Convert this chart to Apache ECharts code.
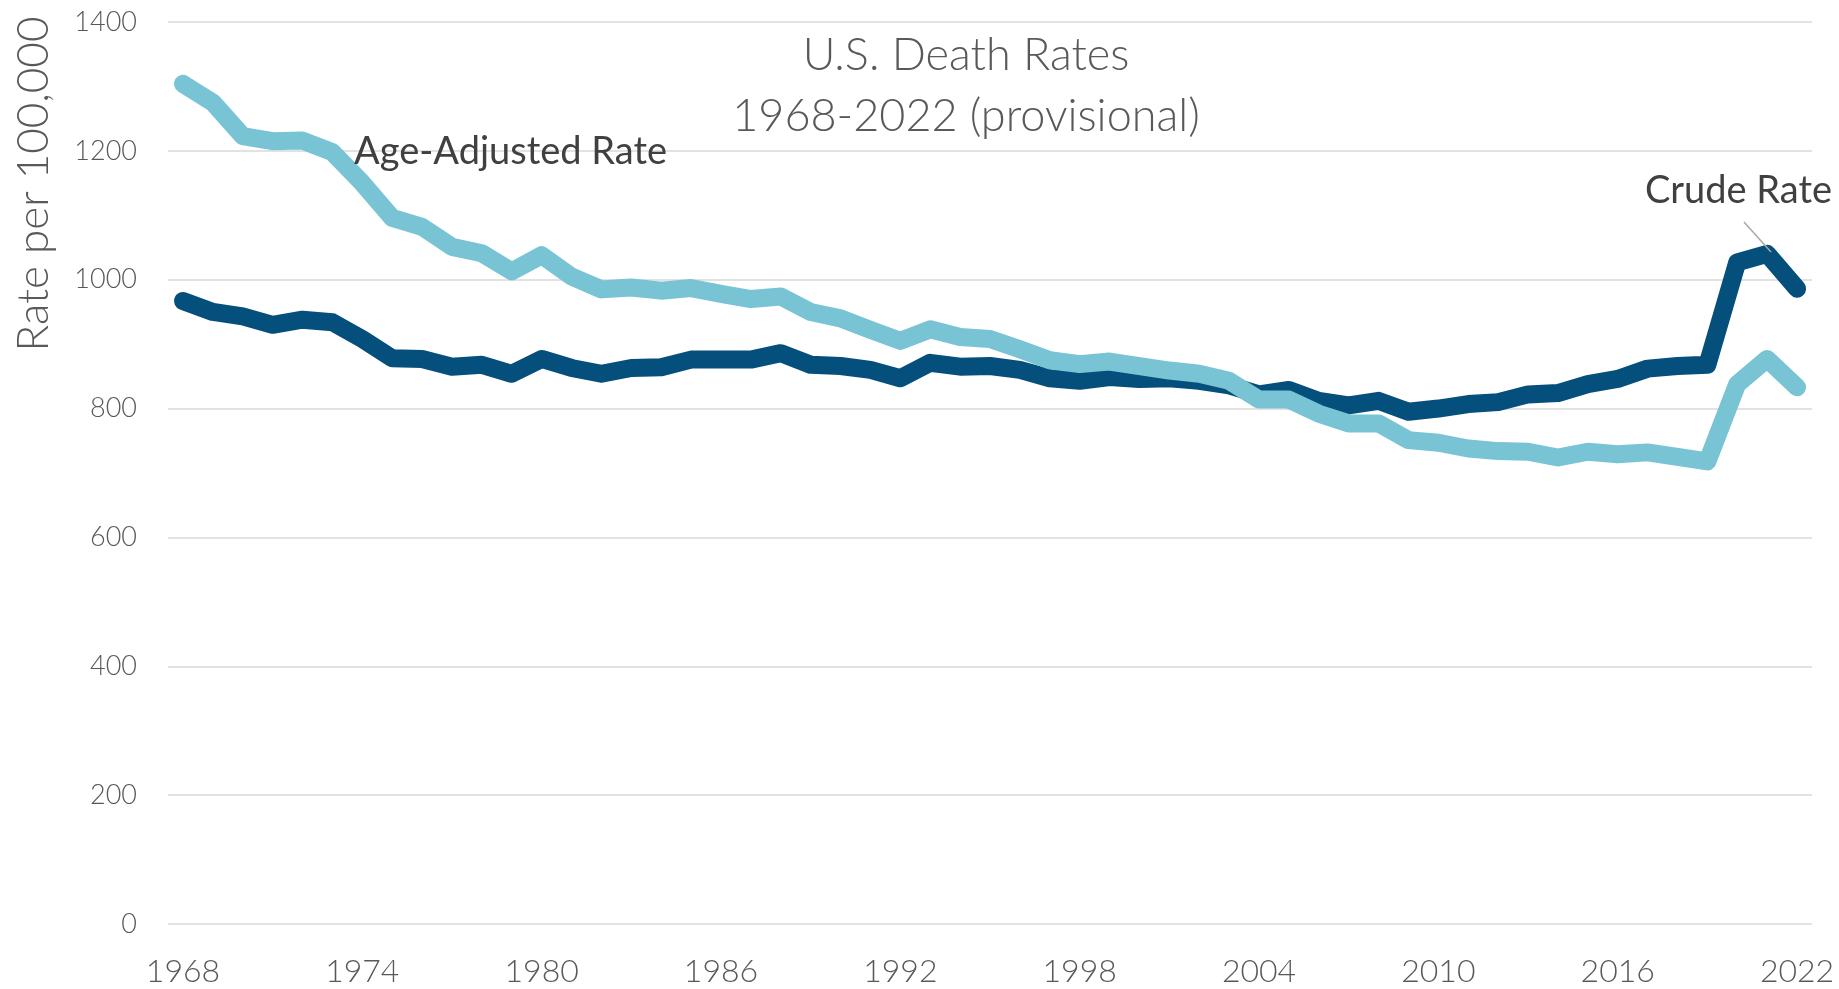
<!DOCTYPE html>
<html>
<head>
<meta charset="utf-8">
<script src="https://cdn.jsdelivr.net/npm/echarts@6/dist/echarts.min.js"></script>
<style>
  html, body { margin: 0; padding: 0; background: #fff; }
  #chart { width: 1839px; height: 989px; }
</style>
</head>
<body>
<div id="chart"></div>
<script>
const years = ['1968', '1969', '1970', '1971', '1972', '1973', '1974', '1975', '1976', '1977',
  '1978', '1979', '1980', '1981', '1982', '1983', '1984', '1985', '1986', '1987',
  '1988', '1989', '1990', '1991', '1992', '1993', '1994', '1995', '1996', '1997',
  '1998', '1999', '2000', '2001', '2002', '2003', '2004', '2005', '2006', '2007',
  '2008', '2009', '2010', '2011', '2012', '2013', '2014', '2015', '2016', '2017',
  '2018', '2019', '2020', '2021', '2022']

// crude death rate per 100,000
const crudeRate = [967, 950, 943, 930, 938, 934, 908, 878, 877, 865,
  868, 854, 877, 863, 854, 863, 864, 876, 876, 876,
  886, 868, 866, 860, 847, 871, 865, 866, 860, 847,
  843, 849, 846, 847, 843, 836, 822, 829, 812, 805,
  812, 795, 800, 807, 810, 822, 824, 838, 846, 862,
  866, 868, 1027, 1040, 986]

// age-adjusted death rate per 100,000
const ageAdjustedRate = [1304, 1275, 1223, 1215, 1216, 1198, 1150, 1096, 1082, 1051,
  1041, 1013, 1038, 1005, 985, 988, 983, 987, 978, 970,
  974, 950, 940, 922, 905, 923, 911, 908, 892, 875,
  869, 873, 866, 859, 854, 843, 814, 814, 792, 777,
  777, 751, 747, 738, 734, 733, 724, 733, 729, 732,
  725, 718, 838, 877, 833]

const yTicks = [0, 200, 400, 600, 800, 1000, 1200, 1400]

const chart = echarts.init(document.getElementById('chart'))
const font = 'Lato, "Open Sans", sans-serif'

chart.setOption({
  animation: false,
  textStyle: { fontFamily: font },
  grid: { left: 168, right: 27, top: 22, bottom: 65 },
  xAxis: {
    type: 'category',
    data: years,
    boundaryGap: true,
    axisLine: { show: false },
    axisTick: { show: false },
    axisLabel: {
      interval: 5,
      margin: 32,
      color: '#595959',
      fontSize: 32,
      fontWeight: 300,
      fontFamily: font
    }
  },
  yAxis: {
    type: 'value',
    min: yTicks[0],
    max: yTicks[yTicks.length - 1],
    interval: 200,
    axisLine: { show: false },
    axisTick: { show: false },
    axisLabel: {
      margin: 31,
      color: '#595959',
      fontSize: 27,
      fontWeight: 300,
      fontFamily: font,
      formatter: (v) => String(v)
    },
    splitLine: { lineStyle: { color: '#d9d9d9', width: 1.5 } }
  },
  series: [
    {
      name: 'Crude Rate',
      type: 'line',
      data: crudeRate,
      showSymbol: false,
      lineStyle: { color: '#044f7b', width: 18, cap: 'round', join: 'round' },
      z: 2
    },
    {
      name: 'Age-Adjusted Rate',
      type: 'line',
      data: ageAdjustedRate,
      showSymbol: false,
      lineStyle: { color: '#78c4d4', width: 18, cap: 'round', join: 'round' },
      z: 3
    }
  ],
  graphic: [
    {
      type: 'text', x: 966, y: 55, z: 10,
      style: {
        text: 'U.S. Death Rates', align: 'center', verticalAlign: 'middle',
        font: '300 45px ' + font, fill: '#595959'
      }
    },
    {
      type: 'text', x: 966, y: 116, z: 10,
      style: {
        text: '1968-2022 (provisional)', align: 'center', verticalAlign: 'middle',
        font: '300 45px ' + font, fill: '#595959'
      }
    },
    {
      type: 'text', x: 34, y: 184, rotation: Math.PI / 2, z: 10,
      style: {
        text: 'Rate per 100,000', align: 'center', verticalAlign: 'middle',
        font: '300 44px ' + font, fill: '#595959'
      }
    },
    {
      type: 'text', x: 354, y: 152, z: 10,
      style: {
        text: 'Age-Adjusted Rate', align: 'left', verticalAlign: 'middle',
        font: '38px ' + font, fill: '#404040'
      }
    },
    {
      type: 'text', x: 1832, y: 191, z: 10,
      style: {
        text: 'Crude Rate', align: 'right', verticalAlign: 'middle',
        font: '38px ' + font, fill: '#404040'
      }
    },
    {
      type: 'line', z: 10,
      shape: { x1: 1744, y1: 222, x2: 1771, y2: 252 },
      style: { stroke: '#a6a6a6', lineWidth: 1.5 }
    }
  ]
})
</script>
</body>
</html>
